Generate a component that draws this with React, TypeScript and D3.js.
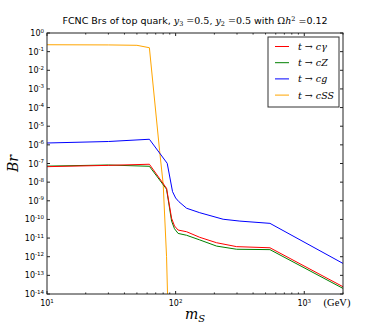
import React, { useRef, useEffect } from 'react';
import * as d3 from 'd3';

// mass points (GeV) and log10(Br)
const massCG = [10, 30, 62.5, 86, 94.6, 100, 106, 121.6, 154, 234, 316, 541, 2000];
const brCG = [-5.9, -5.82, -5.7, -6.99, -8.51, -8.85, -9.05, -9.4, -9.64, -9.99, -10.09, -10.21, -12.36];

const massCGam = [10, 30, 62.5, 85, 93, 98, 104.5, 121.6, 154, 208, 298, 541, 2000];
const brCGam = [-7.17, -7.1, -7.04, -8.33, -9.94, -10.35, -10.57, -10.66, -10.96, -11.25, -11.46, -11.52, -13.61];

const massCZ = [10, 30, 62.5, 85, 93, 98, 104.5, 121.6, 154, 208, 298, 541, 2000];
const brCZ = [-7.14, -7.08, -7.15, -8.38, -10.09, -10.5, -10.75, -10.85, -11.1, -11.43, -11.6, -11.62, -13.7];

const massCSS = [10, 30, 50, 62.5, 75, 80, 85, 88];
const brCSS = [-0.63, -0.64, -0.66, -0.79, -6.3, -8.1, -12, -16];

const seriesNames = ['t → cγ', 't → cZ', 't → cg', 't → cSS'];
const seriesColors = ['#ff0000', '#008000', '#0000ff', '#ffa500'];
const yTickExps = d3.range(-14, 1);
const xTickExps = [1, 2, 3];

const App = () => {
    const ref = useRef<SVGSVGElement>(null);

    useEffect(() => {
        const svg = d3.select(ref.current);
        svg.selectAll('*').remove();

        const margin = { top: 33, right: 39, bottom: 33, left: 47 };
        const W = 382, H = 327;
        const width = W - margin.left - margin.right;
        const height = H - margin.top - margin.bottom;

        const x = d3.scaleLog().domain([10, 2000]).range([0, width]);
        const y = d3.scaleLinear().domain([-14, 0]).range([height, 0]);

        const g = svg.append('g').attr('transform', `translate(${margin.left},${margin.top})`);

        g.append('defs').append('clipPath').attr('id', 'plotclip')
            .append('rect').attr('width', width).attr('height', height);

        const line = d3.line<[number, number]>().x(d => x(d[0])).y(d => y(d[1]));

        const series = [
            { m: massCGam, b: brCGam },
            { m: massCZ, b: brCZ },
            { m: massCG, b: brCG },
            { m: massCSS, b: brCSS },
        ];

        // draw order: orange underneath, then blue, green, red
        const order = [3, 2, 1, 0];
        order.forEach(i => {
            const s = series[i];
            const pts = s.m.map((m, k) => [m, s.b[k]] as [number, number]);
            g.append('path')
                .attr('clip-path', 'url(#plotclip)')
                .attr('d', line(pts))
                .attr('fill', 'none')
                .attr('stroke', seriesColors[i])
                .attr('stroke-width', 1);
        });

        const axisColor = '#222';
        const tickFont = 'DejaVu Sans, sans-serif';

        // y ticks, both sides, inward
        yTickExps.forEach(e => {
            const yy = y(e);
            g.append('line').attr('x1', 0).attr('x2', 3).attr('y1', yy).attr('y2', yy).attr('stroke', axisColor);
            g.append('line').attr('x1', width).attr('x2', width - 3).attr('y1', yy).attr('y2', yy).attr('stroke', axisColor);
            const t = g.append('text')
                .attr('x', -3).attr('y', yy + 3)
                .attr('text-anchor', 'end')
                .attr('font-family', tickFont).attr('font-size', 8).attr('fill', '#000');
            t.append('tspan').text('10');
            t.append('tspan').attr('dy', -3.5).attr('font-size', 5.5).text(String(e));
        });

        // x ticks, major and minor
        const minor: number[] = [];
        for (let dec = 10; dec < 2000; dec *= 10) {
            for (let k = 2; k <= 9; k++) if (dec * k <= 2000) minor.push(dec * k);
        }
        minor.forEach(v => {
            const xx = x(v);
            g.append('line').attr('x1', xx).attr('x2', xx).attr('y1', height).attr('y2', height - 1.5).attr('stroke', axisColor);
            g.append('line').attr('x1', xx).attr('x2', xx).attr('y1', 0).attr('y2', 1.5).attr('stroke', axisColor);
        });
        xTickExps.forEach(e => {
            const xx = x(Math.pow(10, e));
            g.append('line').attr('x1', xx).attr('x2', xx).attr('y1', height).attr('y2', height - 3).attr('stroke', axisColor);
            g.append('line').attr('x1', xx).attr('x2', xx).attr('y1', 0).attr('y2', 3).attr('stroke', axisColor);
            const t = g.append('text')
                .attr('x', xx).attr('y', height + 12)
                .attr('text-anchor', 'middle')
                .attr('font-family', tickFont).attr('font-size', 8).attr('fill', '#000');
            t.append('tspan').text('10');
            t.append('tspan').attr('dy', -3.5).attr('font-size', 5.5).text(String(e));
        });

        // frame
        g.append('rect').attr('width', width).attr('height', height)
            .attr('fill', 'none').attr('stroke', axisColor).attr('stroke-width', 1);

        // legend
        const lg = g.append('g').attr('transform', `translate(${width - 75},${4})`);
        lg.append('rect').attr('width', 71).attr('height', 70)
            .attr('fill', '#fff').attr('stroke', '#333').attr('stroke-width', 1);
        seriesNames.forEach((name, i) => {
            const ly = 9.5 + i * 16.2;
            lg.append('line').attr('x1', 7).attr('x2', 21).attr('y1', ly).attr('y2', ly)
                .attr('stroke', seriesColors[i]).attr('stroke-width', 1);
            lg.append('text').attr('x', 30).attr('y', ly + 3.5)
                .attr('font-family', 'DejaVu Serif, serif').attr('font-style', 'italic')
                .attr('font-size', 9.5).attr('fill', '#000')
                .text(name);
        });

        // title
        const title = svg.append('text')
            .attr('x', margin.left + width / 2).attr('y', 24)
            .attr('text-anchor', 'middle')
            .attr('font-family', 'DejaVu Sans, sans-serif').attr('font-size', 9.5).attr('fill', '#000');
        title.append('tspan').text('FCNC Brs of top quark, ');
        title.append('tspan').attr('font-family', 'DejaVu Serif, serif').attr('font-style', 'italic').text('y');
        title.append('tspan').attr('font-family', 'DejaVu Serif, serif').attr('font-size', 6.5).attr('dy', 2).text('3');
        title.append('tspan').attr('font-family', 'DejaVu Serif, serif').attr('dy', -2).text(' =0.5, ');
        title.append('tspan').attr('font-family', 'DejaVu Serif, serif').attr('font-style', 'italic').text('y');
        title.append('tspan').attr('font-family', 'DejaVu Serif, serif').attr('font-size', 6.5).attr('dy', 2).text('2');
        title.append('tspan').attr('font-family', 'DejaVu Serif, serif').attr('dy', -2).text(' =0.5');
        title.append('tspan').text(' with ');
        title.append('tspan').attr('font-family', 'DejaVu Serif, serif').text('Ω');
        title.append('tspan').attr('font-family', 'DejaVu Serif, serif').attr('font-style', 'italic').text('h');
        title.append('tspan').attr('font-family', 'DejaVu Serif, serif').attr('font-size', 6.5).attr('dy', -3.5).text('2');
        title.append('tspan').attr('dy', 3.5).text(' =0.12');

        // axis labels
        svg.append('text')
            .attr('transform', `translate(18,${margin.top + height / 2}) rotate(-90)`)
            .attr('text-anchor', 'middle')
            .attr('font-family', 'DejaVu Serif, serif').attr('font-style', 'italic')
            .attr('font-size', 14).attr('fill', '#000')
            .text('Br');

        const xl = svg.append('text')
            .attr('x', margin.left + width / 2).attr('y', 319)
            .attr('text-anchor', 'middle')
            .attr('font-family', 'DejaVu Serif, serif').attr('font-style', 'italic')
            .attr('font-size', 14).attr('fill', '#000');
        xl.append('tspan').text('m');
        xl.append('tspan').attr('font-size', 10).attr('dy', 3).text('S');

        svg.append('text')
            .attr('x', margin.left + width - 6).attr('y', 306)
            .attr('text-anchor', 'middle')
            .attr('font-family', 'Liberation Serif, serif')
            .attr('font-size', 10.5).attr('fill', '#000')
            .text('(GeV)');
    }, []);

    return (
        <svg ref={ref} width={382} height={327}
            style={{ position: 'absolute', left: 0, top: 0, background: '#fff' }} />
    );
};

export default App;
